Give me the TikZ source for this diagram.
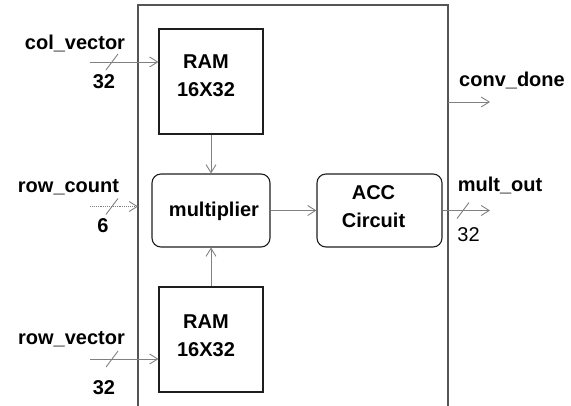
\documentclass[tikz,border=0pt]{standalone}
\usepackage{fontspec}
\setmainfont{Liberation Sans}
\usetikzlibrary{arrows.meta}
\definecolor{WireGray}{RGB}{128,128,128}
\definecolor{FrameGray}{RGB}{85,85,85}
\definecolor{BoxLine}{RGB}{30,30,30}

\begin{document}
\begin{tikzpicture}[x=1pt,y=-1pt,
    >={Straight Barb[length=8pt,width=10pt]},
    wire/.style={WireGray,line width=0.9pt},
    frame/.style={FrameGray,line width=1.2pt},
    ramblock/.style={draw=BoxLine,line width=1.1pt,minimum width=104pt,minimum height=105pt},
    roundblock/.style={draw=BoxLine,line width=1.1pt,rounded corners=9pt,minimum height=73pt},
    txt/.style={font=\fontsize{20}{28}\selectfont\bfseries,align=center,inner sep=0pt},
    sig/.style={font=\fontsize{20}{24}\selectfont\bfseries,anchor=base,inner sep=0pt},
    width/.style={font=\fontsize{20}{24}\selectfont,anchor=base,inner sep=0pt}]
  \useasboundingbox (0,0) rectangle (571,406);

  \draw[frame] (138,406) -- (138,5) -- (448,5) -- (448,406);

  \node[ramblock] (ramcol) at (211,81.5) {};
  \node[txt] (ramcoltxt) at ([xshift=-5pt,yshift=6pt]ramcol.center) {RAM\\16X32};
  \node[ramblock] (ramrow) at (211,339.5) {};
  \node[txt] (ramrowtxt) at ([xshift=-5pt,yshift=4pt]ramrow.center) {RAM\\16X32};
  \node[roundblock,minimum width=118pt] (mult) at (211,210.5) {};
  \node[txt] (multtxt) at ([xshift=3pt,yshift=-1pt]mult.center) {multiplier};
  \node[roundblock,minimum width=125pt] (acc) at (379.5,210.5) {};
  \node[txt] (acctxt) at ([xshift=-6pt,yshift=4pt]acc.center) {ACC\\Circuit};

  \coordinate (colin) at (90,62);
  \coordinate (rowcin) at (90,206.5);
  \coordinate (rowcend) at (138,206.5);
  \coordinate (rowvin) at (90,359);
  \coordinate (convout) at (490,102);
  \coordinate (convstart) at (448,102);
  \coordinate (multout) at (490,210.5);

  \draw[wire,->] (colin) -- (colin -| ramcol.west);
  \draw[wire,->,densely dotted] (rowcin) -- (rowcend);
  \draw[wire,->] (rowvin) -- (rowvin -| ramrow.west);
  \draw[wire,->] (ramcol) -- (mult);
  \draw[wire,->] (ramrow) -- (mult);
  \draw[wire,->] (mult) -- (acc);
  \draw[wire,->] (acc.east) -- (multout);
  \draw[wire,->] (convstart) -- (convout);

  \draw[wire] (112,62) ++(-6,8) -- ++(12,-16);
  \draw[wire] (112,206.5) ++(-6,8) -- ++(12,-16);
  \draw[wire] (112,359) ++(-6,8) -- ++(12,-16);
  \draw[wire] (463,210.5) ++(-6,8) -- ++(12,-16);

  \node[sig] (colname) at (75,50) {col\_vector};
  \node[sig] (colw) at (104,89) {32};
  \node[sig] (rowcname) at (68.5,193) {row\_count};
  \node[sig] (rowcw) at (103,233) {6};
  \node[sig] (rowvname) at (71.5,345) {row\_vector};
  \node[sig] (rowvw) at (104,395) {32};
  \node[sig] (convname) at (512,87) {conv\_done};
  \node[sig] (multname) at (500,192) {mult\_out};
  \node[width] (multw) at (468.5,242) {32};
\end{tikzpicture}
\end{document}
